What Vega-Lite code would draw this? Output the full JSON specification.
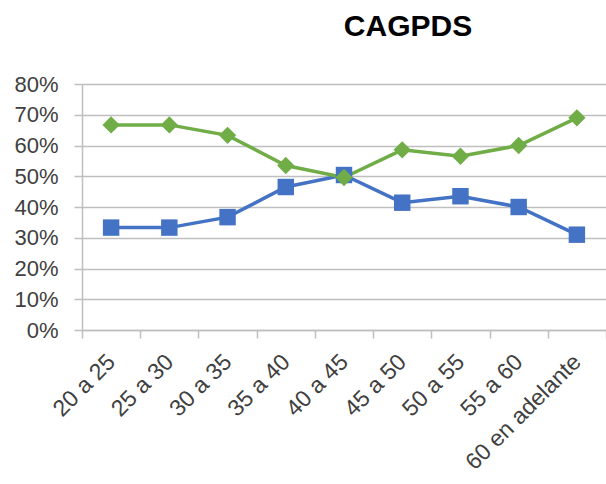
{
  "$schema": "https://vega.github.io/schema/vega-lite/v6.json",
  "width": 524,
  "height": 246,
  "autosize": {"type": "none"},
  "padding": {"left": 82, "top": 84, "right": 0, "bottom": 154},
  "background": "white",
  "title": {"text": "CAGPDS", "fontSize": 30, "fontWeight": "bold", "font": "Liberation Sans", "color": "#000000", "anchor": "middle", "dx": 64, "offset": 31},
  "data": {"values": [
    {"edad": "20 a 25", "serie": "Serie 1", "valor": 0.333},
    {"edad": "25 a 30", "serie": "Serie 1", "valor": 0.333},
    {"edad": "30 a 35", "serie": "Serie 1", "valor": 0.367},
    {"edad": "35 a 40", "serie": "Serie 1", "valor": 0.465},
    {"edad": "40 a 45", "serie": "Serie 1", "valor": 0.504},
    {"edad": "45 a 50", "serie": "Serie 1", "valor": 0.414},
    {"edad": "50 a 55", "serie": "Serie 1", "valor": 0.435},
    {"edad": "55 a 60", "serie": "Serie 1", "valor": 0.4},
    {"edad": "60 en adelante", "serie": "Serie 1", "valor": 0.31},
    {"edad": "20 a 25", "serie": "Serie 2", "valor": 0.667},
    {"edad": "25 a 30", "serie": "Serie 2", "valor": 0.667},
    {"edad": "30 a 35", "serie": "Serie 2", "valor": 0.633},
    {"edad": "35 a 40", "serie": "Serie 2", "valor": 0.535},
    {"edad": "40 a 45", "serie": "Serie 2", "valor": 0.496},
    {"edad": "45 a 50", "serie": "Serie 2", "valor": 0.586},
    {"edad": "50 a 55", "serie": "Serie 2", "valor": 0.565},
    {"edad": "55 a 60", "serie": "Serie 2", "valor": 0.6},
    {"edad": "60 en adelante", "serie": "Serie 2", "valor": 0.69}
  ]},
  "encoding": {
    "x": {"field": "edad", "type": "ordinal", "sort": null,
      "scale": {"type": "band", "paddingInner": 0, "paddingOuter": 0},
      "axis": {"title": null, "labelAngle": -45, "labelAlign": "right", "labelBaseline": "middle", "labelFontSize": 23, "labelFont": "Liberation Sans", "labelColor": "#404040", "labelPadding": 20, "tickBand": "extent", "tickSize": 8, "tickColor": "#bfbfbf", "tickWidth": 1.5, "domainColor": "#bfbfbf", "domainWidth": 1.5, "grid": false, "labelOverlap": false}},
    "y": {"field": "valor", "type": "quantitative",
      "scale": {"domain": [0, 0.8], "nice": false},
      "axis": {"title": null, "values": [0, 0.1, 0.2, 0.3, 0.4, 0.5, 0.6, 0.7, 0.8], "format": ".0%", "labelFontSize": 22, "labelFont": "Liberation Sans", "labelColor": "#404040", "labelPadding": 16, "tickSize": 8, "tickColor": "#bfbfbf", "tickWidth": 1.5, "domainColor": "#bfbfbf", "domainWidth": 1.5, "grid": true, "gridColor": "#bfbfbf", "gridWidth": 1.5}},
    "color": {"field": "serie", "type": "nominal", "scale": {"domain": ["Serie 1", "Serie 2"], "range": ["#4472C4", "#70AD47"]}, "legend": null}
  },
  "layer": [
    {"mark": {"type": "line", "strokeWidth": 3.5}},
    {"mark": {"type": "point", "filled": true, "opacity": 1},
      "encoding": {
        "shape": {"field": "serie", "type": "nominal", "scale": {"domain": ["Serie 1", "Serie 2"], "range": ["square", "diamond"]}, "legend": null},
        "size": {"field": "serie", "type": "nominal", "scale": {"domain": ["Serie 1", "Serie 2"], "range": [270, 300]}, "legend": null}
      }}
  ],
  "config": {"view": {"stroke": null}}
}
